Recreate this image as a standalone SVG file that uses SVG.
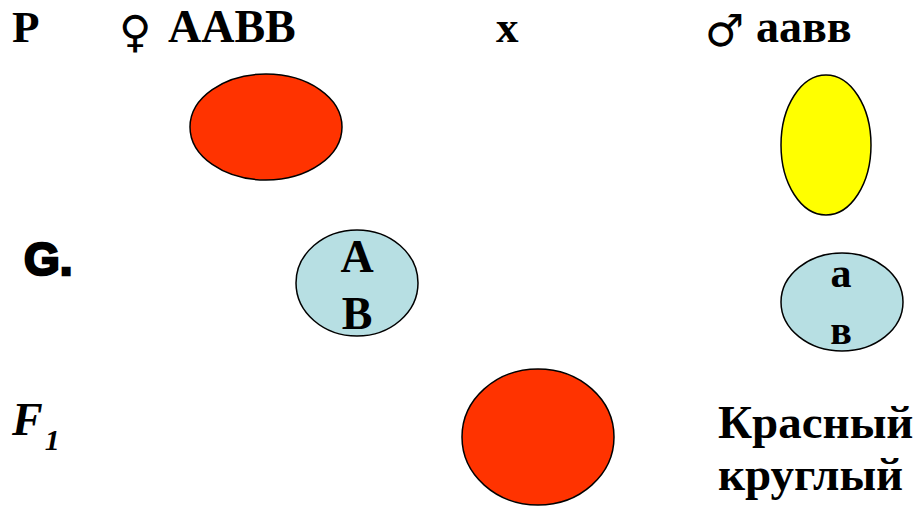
<svg xmlns="http://www.w3.org/2000/svg" width="920" height="510" viewBox="0 0 920 510">
<style>
.t{font-family:'Liberation Serif','Times New Roman','DejaVu Serif',serif;font-weight:700;fill:#000}
.sym{font-family:'DejaVu Sans',sans-serif;font-weight:normal;fill:#000}
.red{fill:#FF3300;stroke:#000;stroke-width:1.5}
.yel{fill:#FFFF00;stroke:#000;stroke-width:1.5}
.gam{fill:#B7DFE3;stroke:#000;stroke-width:1.5}
</style>
<rect width="920" height="510" fill="#fff"/>
<g id="labels">
<text class="t" x="12" y="42" font-size="45">P</text>
<text class="sym" x="119" y="47" font-size="44">♀</text>
<text class="t" x="168" y="42" font-size="46">AABB</text>
<text class="t" x="496" y="42" font-size="45">x</text>
<text class="sym" x="705" y="46" font-size="44">♂</text>
<text class="t" x="756" y="42" font-size="46">аавв</text>
<text x="24" y="275" font-family="Liberation Sans,Arial,sans-serif" font-weight="900" font-size="46" stroke="#000" stroke-width="2.5">G.</text>
<text class="t" x="12" y="435" font-size="46" font-style="italic">F<tspan font-size="30" dy="15" dx="2">1</tspan></text>
<text class="t" x="718" y="438" font-size="47">Красный</text>
<text class="t" x="718" y="490" font-size="47">круглый</text>
</g>
<g id="parent-female"><ellipse class="red" cx="266" cy="127" rx="76" ry="53"/></g>
<g id="parent-male"><ellipse class="yel" cx="826" cy="145" rx="45" ry="70"/></g>
<g id="gamete-AB">
<ellipse class="gam" cx="357" cy="283" rx="61" ry="53"/>
<text class="t" x="357" y="272" font-size="46" text-anchor="middle">A</text>
<text class="t" x="357" y="329" font-size="46" text-anchor="middle">B</text>
</g>
<g id="gamete-ab">
<ellipse class="gam" cx="842" cy="302" rx="61" ry="49"/>
<text class="t" x="841" y="287" font-size="42" text-anchor="middle">а</text>
<text class="t" x="841" y="344" font-size="40" text-anchor="middle">в</text>
</g>
<g id="f1"><ellipse class="red" cx="538" cy="437" rx="76" ry="68"/></g>
<g id="connectors"></g>
</svg>
